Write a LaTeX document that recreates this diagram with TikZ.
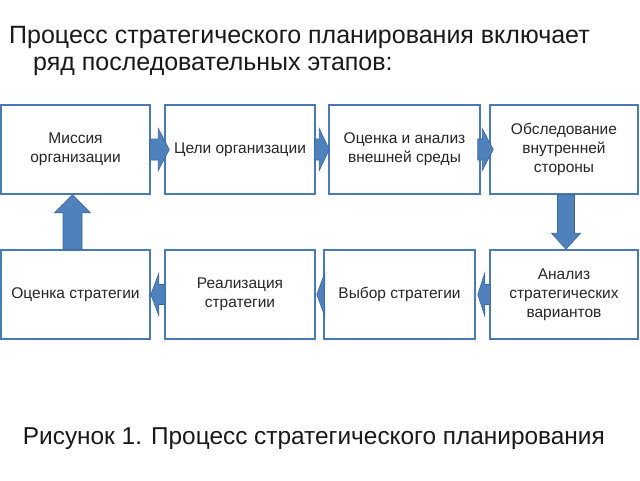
\documentclass[tikz,border=0pt]{standalone}
\usepackage{fontspec}
\setmainfont{Liberation Sans}
\usetikzlibrary{calc}
\definecolor{boxline}{HTML}{4A7AB5}
\definecolor{arrfill}{HTML}{4F81BD}
\definecolor{arrline}{HTML}{3A679E}
\tikzset{
  stepbox/.style={draw=boxline, line width=1.5pt, fill=white, inner sep=2pt,
    align=center, font=\fontsize{15.5}{19}\selectfont, text=black!85},
  blockarrow/.style={fill=arrfill, draw=arrline, line width=0.6pt, line join=miter},
  titletext/.style={anchor=base west, inner sep=0pt, font=\fontsize{25}{28}\selectfont, text=black!90},
}
\newcommand\rightarr[5]{\filldraw[blockarrow] let \p1=(#1),\p2=(#2) in
  (\x1,\y1+#3) -- (\x2-#5,\y1+#3) -- (\x2-#5,\y1+#4) -- (\x2,\y1) -- (\x2-#5,\y1-#4) -- (\x2-#5,\y1-#3) -- (\x1,\y1-#3) -- cycle;}
\newcommand\leftarr[5]{\filldraw[blockarrow] let \p1=(#1),\p2=(#2) in
  (\x1,\y1+#3) -- (\x2+#5,\y1+#3) -- (\x2+#5,\y1+#4) -- (\x2,\y1) -- (\x2+#5,\y1-#4) -- (\x2+#5,\y1-#3) -- (\x1,\y1-#3) -- cycle;}
\newcommand\downarr[5]{\filldraw[blockarrow] let \p1=(#1),\p2=(#2) in
  (\x1+#3,\y1) -- (\x1+#3,\y2+#5) -- (\x1+#4,\y2+#5) -- (\x1,\y2) -- (\x1-#4,\y2+#5) -- (\x1-#3,\y2+#5) -- (\x1-#3,\y1) -- cycle;}
\newcommand\uparr[5]{\filldraw[blockarrow] let \p1=(#1),\p2=(#2) in
  (\x1+#3,\y1) -- (\x1+#3,\y2-#5) -- (\x1+#4,\y2-#5) -- (\x1,\y2) -- (\x1-#4,\y2-#5) -- (\x1-#3,\y2-#5) -- (\x1-#3,\y1) -- cycle;}
\begin{document}
\begin{tikzpicture}[x=1pt,y=-1pt]
\useasboundingbox[fill=white] (0,0) rectangle (640,480);
% title
\node[titletext] (t1) at (9,43) {Процесс стратегического планирования включает};
\node[titletext] (t2) at (33,70) {ряд последовательных этапов:};
% boxes
\node[stepbox, minimum width=149pt, minimum height=89pt] (b1) at (75.5,149.5) {Миссия\\организации};
\node[stepbox, minimum width=150pt, minimum height=89pt] (b2) at (240,149.5) {Цели организации};
\node[stepbox, minimum width=151pt, minimum height=89pt] (b3) at (404.5,149.5) {Оценка и анализ\\внешней среды};
\node[stepbox, minimum width=148pt, minimum height=89pt] (b4) at (564,149.5) {Обследование\\внутренней\\стороны};
\node[stepbox, minimum width=148pt, minimum height=89pt] (b5) at (564,294.5) {Анализ\\стратегических\\вариантов};
\node[stepbox, minimum width=151pt, minimum height=89pt] (b6) at (399.5,294.5) {Выбор стратегии};
\node[stepbox, minimum width=150pt, minimum height=89pt] (b7) at (240,294.5) {Реализация\\стратегии};
\node[stepbox, minimum width=149pt, minimum height=89pt] (b8) at (75.5,294.5) {Оценка стратегии};
% arrows
\rightarr{$(b1.east)+(-1,0)$}{$(b2.west)+(5,0)$}{10.5pt}{21pt}{11pt}
\rightarr{$(b2.east)+(-1,0)$}{$(b3.west)+(1,0)$}{10.5pt}{21pt}{10pt}
\rightarr{$(b3.east)+(-3,0)$}{$(b4.west)+(4,0)$}{10.5pt}{21pt}{11pt}
\downarr{$(b4.south)+(2,0)$}{b5.north}{8.5pt}{14.5pt}{16pt}
\leftarr{$(b5.west)+(1,0)$}{$(b6.east)+(2,0)$}{10pt}{21.5pt}{7pt}
\leftarr{$(b6.west)+(1,0)$}{$(b7.east)+(1,0)$}{10pt}{21.5pt}{8pt}
\leftarr{$(b7.west)+(1,0)$}{b8.east}{10pt}{21pt}{8pt}
\uparr{$(b8.north)+(-3,0)$}{b1.south}{9.5pt}{18pt}{18pt}
% caption
\node[anchor=base west, inner sep=0pt, font=\fontsize{24.4}{28}\selectfont, text=black!90] (cap) at (22.7,444) {Рисунок 1. Процесс стратегического планирования};
\end{tikzpicture}
\end{document}
